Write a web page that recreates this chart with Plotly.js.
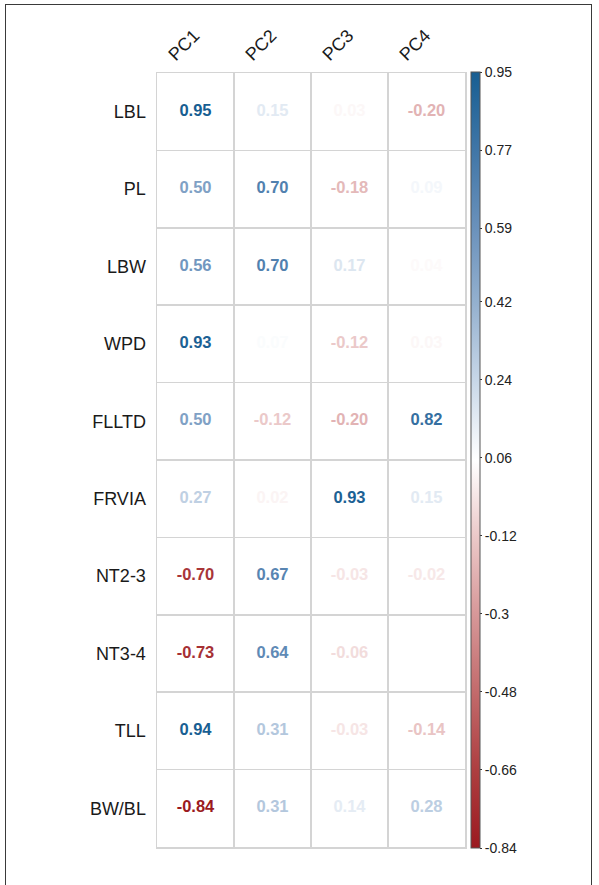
<!DOCTYPE html>
<html>
<head>
<meta charset="utf-8">
<script src="https://cdn.plot.ly/plotly-3.0.1.min.js"></script>
<style>
  html, body { margin: 0; padding: 0; background: #fff; }
  #wrap { position: relative; width: 599px; height: 885px; overflow: hidden; }
  #chart { width: 599px; height: 885px; }
  #frame { position: absolute; left: 5px; top: 4px; width: 587px; height: 900px;
           border: 1.5px solid #3a3a3a; pointer-events: none; box-sizing: border-box; }
</style>
</head>
<body>
<div id="wrap">
  <div id="chart"></div>
  <div id="frame"></div>
</div>
<script>
// ---- data ----
const components = ["PC1", "PC2", "PC3", "PC4"];
const traits = ["LBL", "PL", "LBW", "WPD", "FLLTD", "FRVIA", "NT2-3", "NT3-4", "TLL", "BW/BL"];
const PC1 = [0.95, 0.50, 0.56, 0.93, 0.50, 0.27, -0.70, -0.73, 0.94, -0.84];
const PC2 = [0.15, 0.70, 0.70, 0.07, -0.12, 0.02, 0.67, 0.64, 0.31, 0.31];
const PC3 = [0.03, -0.18, 0.17, -0.12, -0.20, 0.93, -0.03, -0.06, -0.03, 0.14];
const PC4 = [-0.20, 0.09, 0.04, 0.03, 0.82, 0.15, -0.02, null, -0.14, 0.28];
const colorbarTicks = [0.95, 0.77, 0.59, 0.42, 0.24, 0.06, -0.12, -0.3, -0.48, -0.66, -0.84];
const colorbarLabels = ["0.95", "0.77", "0.59", "0.42", "0.24", "0.06", "-0.12", "-0.3", "-0.48", "-0.66", "-0.84"];
const valueMin = -0.84, valueMax = 0.95;

// ---- colour scale ----
const scale = [
  [0.0, "#9b1a20"], [0.1, "#ad3e40"], [0.2, "#c26a6b"], [0.3, "#d69798"],
  [0.4, "#ebc8c8"], [0.5, "#ffffff"], [0.6, "#c9d8e8"], [0.7, "#95b1cf"],
  [0.8, "#6a91bb"], [0.9, "#4076a7"], [1.0, "#175e92"]
];
function hex2rgb(h) { return [1,3,5].map(i => parseInt(h.substr(i,2),16)); }
function colorFor(v) {
  let f = (v - valueMin) / (valueMax - valueMin);
  f = Math.max(0, Math.min(1, f));
  for (let i = 0; i < scale.length - 1; i++) {
    const [f0, c0] = scale[i], [f1, c1] = scale[i+1];
    if (f >= f0 && f <= f1) {
      const t = (f - f0) / (f1 - f0);
      const a = hex2rgb(c0), b = hex2rgb(c1);
      const c = a.map((x, k) => Math.round(x + (b[k] - x) * t));
      return `rgb(${c[0]},${c[1]},${c[2]})`;
    }
  }
  return scale[scale.length-1][1];
}

const series = [PC1, PC2, PC3, PC4];
const xs = [], ys = [], texts = [], cols = [], vals = [];
series.forEach((arr, ci) => {
  arr.forEach((v, ri) => {
    if (v === null) return;
    xs.push(components[ci]); ys.push(traits[ri]);
    texts.push(v.toFixed(2)); cols.push(colorFor(v)); vals.push(v);
  });
});

const FONT = "Liberation Sans, Arial, Helvetica, sans-serif";

const textTrace = {
  type: "scatter", mode: "text", x: xs, y: ys, text: texts,
  textposition: "middle center",
  textfont: { family: FONT, size: 16.5, color: cols, weight: "bold" },
  hoverinfo: "skip", showlegend: false
};

const scaleTrace = {
  type: "scatter", mode: "markers", x: xs, y: ys,
  marker: {
    size: 1, opacity: 0, color: vals, cmin: valueMin, cmax: valueMax,
    colorscale: scale, showscale: true,
    colorbar: {
      x: 1.0195, xanchor: "left", xref: "paper",
      y: 0.5, yanchor: "middle", len: 776, lenmode: "pixels",
      thickness: 9, outlinewidth: 1, outlinecolor: "#555",
      tickvals: colorbarTicks, ticktext: colorbarLabels,
      ticks: "outside", ticklen: 2, tickcolor: "#333",
      tickfont: { family: FONT, size: 14, color: "#222" },
      xpad: 0, ypad: 0
    }
  },
  hoverinfo: "skip", showlegend: false
};

const layout = {
  width: 599, height: 885,
  margin: { l: 157, r: 134, t: 73, b: 38 },
  paper_bgcolor: "#ffffff", plot_bgcolor: "#ffffff",
  showlegend: false,
  font: { family: FONT, color: "#1a1a1a" },
  xaxis: {
    type: "category", categoryorder: "array", categoryarray: components,
    range: [-0.5, 3.5], side: "top", tickson: "boundaries",
    showgrid: true, gridcolor: "#d4d4d4", gridwidth: 1.5,
    showline: true, mirror: true, linecolor: "#d4d4d4", linewidth: 1.5,
    ticks: "", tickangle: -45, zeroline: false, ticklabelshift: -26,
    tickfont: { family: FONT, size: 18, color: "#1a1a1a" }, fixedrange: true
  },
  yaxis: {
    type: "category", categoryorder: "array", categoryarray: traits,
    range: [9.5, -0.5], tickson: "boundaries",
    showgrid: true, gridcolor: "#d4d4d4", gridwidth: 1.5,
    showline: true, mirror: true, linecolor: "#d4d4d4", linewidth: 1.5,
    ticks: "", zeroline: false, ticklabelstandoff: 6,
    tickfont: { family: FONT, size: 18, color: "#1a1a1a" }, fixedrange: true
  }
};

Plotly.newPlot("chart", [scaleTrace, textTrace], layout, { displayModeBar: false, staticPlot: true });
</script>
</body>
</html>
